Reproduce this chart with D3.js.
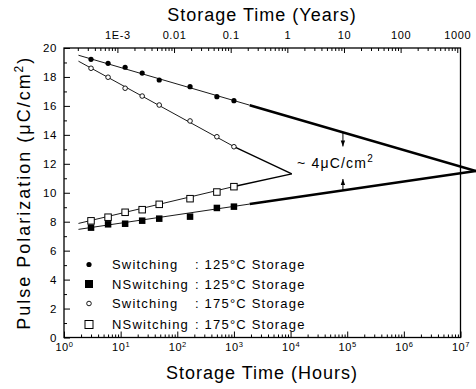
<!DOCTYPE html>
<html>
<head>
<meta charset="utf-8">
<script src="https://cdn.jsdelivr.net/npm/d3@7"></script>
<style>
  body { margin: 0; background: #fff; }
  svg { display: block; font-family: "Liberation Sans", Arial, Helvetica, sans-serif; }
</style>
</head>
<body>
<div id="chart"></div>
<script>
// Storage time of the measured points (hours)
const hours = [3, 6, 12, 24, 48, 168, 500, 1000];

// Pulse polarization (uC/cm2)
const sw125 = [19.22, 18.94, 18.67, 18.27, 17.79, 17.33, 16.64, 16.36];
const ns125 = [7.59, 7.82, 7.86, 8.07, 8.21, 8.35, 8.95, 9.04];
const sw175 = [18.60, 17.98, 17.22, 16.68, 16.06, 14.96, 13.87, 13.18];
const ns175 = [8.06, 8.31, 8.65, 8.83, 9.20, 9.59, 10.05, 10.42];

// fitted / extrapolated lines: [hours, value] end points
const fitSw125Thin = [[1.8, 19.5], [1900, 16.05]];
const fitSw125Thick = [[1900, 16.05], [1.87e7, 11.5]];
const fitNs125Thin = [[1.8, 7.47], [1900, 9.22]];
const fitNs125Thick = [[1900, 9.22], [1.87e7, 11.5]];
const fitSw175Thin = [[1.8, 19.09], [1000, 13.19]];
const fitSw175Tail = [[1000, 13.19], [1.05e4, 11.3]];
const fitNs175Thin = [[1.8, 7.88], [1000, 10.43]];
const fitNs175Tail = [[1000, 10.43], [1.05e4, 11.3]];

// axis ticks
const hourTicks = [1, 10, 100, 1e3, 1e4, 1e5, 1e6, 1e7];
const yearTicks = [1e-3, 0.01, 0.1, 1, 10, 100, 1000];
const yearLabels = ['1E-3', '0.01', '0.1', '1', '10', '100', '1000'];
const polTicks = [0, 2, 4, 6, 8, 10, 12, 14, 16, 18, 20];

// legend
const legendNames = ['Switching', 'NSwitching', 'Switching', 'NSwitching'];
const legendTemps = [': 125°C Storage', ': 125°C Storage', ': 175°C Storage', ': 175°C Storage'];
const legendSymbols = ['dot', 'fsquare', 'circle', 'osquare'];

// ~4uC/cm2 gap marker
const gapHour = 8.4e4;
const gapUpper = [14.18, 13.2];
const gapLower = [10.95, 10.16];

const W = 476, H = 389;
const HOURS_PER_YEAR = 8766;

const svg = d3.select('#chart').append('svg')
    .attr('width', W)
    .attr('height', H);

const x = d3.scaleLog().domain([1, 1e7]).range([64, 460.5]);
const y = d3.scaleLinear().domain([0, 20]).range([337.5, 48]);
const xYears = d3.scaleLog()
    .domain([1 / HOURS_PER_YEAR, 1e7 / HOURS_PER_YEAR])
    .range(x.range());

const x0 = x.range()[0], x1 = x.range()[1];
const yTop = y.range()[1], yBot = y.range()[0];

function isPow10(v) {
    const l = Math.log10(v);
    return Math.abs(l - Math.round(l)) < 1e-9;
}

function styleAxis(g, size) {
    g.select('.domain').remove();
    g.selectAll('line').attr('stroke', '#000').attr('stroke-width', 1);
    g.selectAll('text')
        .attr('fill', '#000')
        .attr('font-size', size)
        .attr('letter-spacing', 0.6)
        .attr('font-family', '"Liberation Sans", Arial, sans-serif');
}

// bottom axis (hours)
const bottomMinor = svg.append('g')
    .attr('transform', `translate(0,${yBot})`)
    .call(d3.axisBottom(x)
        .tickValues(x.ticks().filter(v => !isPow10(v)))
        .tickSizeInner(-3).tickSizeOuter(0).tickFormat(''));
styleAxis(bottomMinor, 11);

const bottomMajor = svg.append('g')
    .attr('transform', `translate(0,${yBot})`)
    .call(d3.axisBottom(x)
        .tickValues(hourTicks)
        .tickSizeInner(-6).tickSizeOuter(0).tickPadding(6));
styleAxis(bottomMajor, 11);
bottomMajor.selectAll('.tick text')
    .attr('dy', '0.71em')
    .text(null)
    .each(function(d) {
        const t = d3.select(this);
        t.append('tspan').text('10');
        t.append('tspan')
            .attr('font-size', 7.5)
            .attr('dy', '-0.55em')
            .text(Math.round(Math.log10(d)));
    });

// top axis (years)
const topMinor = svg.append('g')
    .attr('transform', `translate(0,${yTop})`)
    .call(d3.axisTop(xYears)
        .tickValues(xYears.ticks().filter(v => !isPow10(v)))
        .tickSizeInner(-3).tickSizeOuter(0).tickFormat(''));
styleAxis(topMinor, 11);

const topMajor = svg.append('g')
    .attr('transform', `translate(0,${yTop})`)
    .call(d3.axisTop(xYears)
        .tickValues(yearTicks)
        .tickSizeInner(-5).tickSizeOuter(0).tickPadding(9)
        .tickFormat((d, i) => yearLabels[i]));
styleAxis(topMajor, 11);

// left axis
const leftMinor = svg.append('g')
    .attr('transform', `translate(${x0},0)`)
    .call(d3.axisLeft(y)
        .tickValues(d3.range(1, 20, 2))
        .tickSizeInner(-3).tickSizeOuter(0).tickFormat(''));
styleAxis(leftMinor, 11);

const leftMajor = svg.append('g')
    .attr('transform', `translate(${x0},0)`)
    .call(d3.axisLeft(y)
        .tickValues(polTicks)
        .tickSizeInner(-6).tickSizeOuter(0).tickPadding(7));
styleAxis(leftMajor, 11.5);

// frame
svg.append('rect')
    .attr('x', x0).attr('y', yTop)
    .attr('width', x1 - x0).attr('height', yBot - yTop)
    .attr('fill', 'none')
    .attr('stroke', '#000')
    .attr('stroke-width', 1.3);

// fit lines
const line = d3.line().x(d => x(d[0])).y(d => y(d[1]));
const fits = [
    [fitSw125Thin, 0.9], [fitSw125Thick, 2.6],
    [fitNs125Thin, 0.9], [fitNs125Thick, 2.6],
    [fitSw175Thin, 0.9], [fitSw175Tail, 1.4],
    [fitNs175Thin, 0.9], [fitNs175Tail, 1.4]
];
svg.append('g').selectAll('path')
    .data(fits)
    .enter()
    .append('path')
    .attr('d', d => line(d[0]))
    .attr('fill', 'none')
    .attr('stroke', '#000')
    .attr('stroke-width', d => d[1]);

// markers
function drawSymbol(sel, type, cx, cy, big) {
    const s = big ? 8 : 6.5;
    if (type === 'dot') {
        sel.append('circle').attr('cx', cx).attr('cy', cy).attr('r', 2.6).attr('fill', '#000');
    } else if (type === 'circle') {
        sel.append('circle').attr('cx', cx).attr('cy', cy).attr('r', 2.3)
            .attr('fill', '#fff').attr('stroke', '#000').attr('stroke-width', 0.9);
    } else if (type === 'fsquare') {
        sel.append('rect').attr('x', cx - s / 2).attr('y', cy - s / 2)
            .attr('width', s).attr('height', s).attr('fill', '#000');
    } else {
        sel.append('rect').attr('x', cx - s / 2).attr('y', cy - s / 2)
            .attr('width', s).attr('height', s)
            .attr('fill', '#fff').attr('stroke', '#000').attr('stroke-width', 1);
    }
}

const series = [
    [sw125, 'dot'], [ns125, 'fsquare'], [sw175, 'circle'], [ns175, 'osquare']
];
const markG = svg.append('g');
series.forEach(([vals, type]) => {
    vals.forEach((v, i) => drawSymbol(markG, type, x(hours[i]), y(v), false));
});

// gap annotation
const ann = svg.append('g');
const gx = x(gapHour);
ann.append('line')
    .attr('x1', gx).attr('x2', gx)
    .attr('y1', y(gapUpper[0])).attr('y2', y(gapUpper[1]))
    .attr('stroke', '#000').attr('stroke-width', 1);
ann.append('path')
    .attr('d', `M${gx - 2.2},${y(gapUpper[1]) - 6} L${gx + 2.2},${y(gapUpper[1]) - 6} L${gx},${y(gapUpper[1])} Z`)
    .attr('fill', '#000');
ann.append('line')
    .attr('x1', gx).attr('x2', gx)
    .attr('y1', y(gapLower[0])).attr('y2', y(gapLower[1]))
    .attr('stroke', '#000').attr('stroke-width', 1);
ann.append('path')
    .attr('d', `M${gx - 2.2},${y(gapLower[0]) + 6} L${gx + 2.2},${y(gapLower[0]) + 6} L${gx},${y(gapLower[0])} Z`)
    .attr('fill', '#000');

const annText = ann.append('text')
    .attr('x', 297).attr('y', 168)
    .attr('font-size', 14)
    .attr('letter-spacing', 1.2)
    .attr('fill', '#000');
annText.append('tspan').text('~ 4\u03bcC/cm');
annText.append('tspan').attr('font-size', 10).attr('dy', -6).text('2');

// legend
const legend = svg.append('g');
const rowY = [264.5, 284, 303.5, 324.5];
legendNames.forEach((name, i) => {
    drawSymbol(legend, legendSymbols[i], 89, rowY[i], true);
    legend.append('text')
        .attr('x', 112).attr('y', rowY[i] + 4.5)
        .attr('font-size', 13).attr('letter-spacing', 1.2)
        .text(name);
    legend.append('text')
        .attr('x', 195).attr('y', rowY[i] + 4.5)
        .attr('font-size', 13).attr('letter-spacing', 1.2)
        .text(legendTemps[i]);
});

// axis titles
svg.append('text')
    .attr('x', 262).attr('y', 21)
    .attr('text-anchor', 'middle')
    .attr('font-size', 18).attr('letter-spacing', 1)
    .text('Storage Time (Years)');

svg.append('text')
    .attr('x', 262).attr('y', 379)
    .attr('text-anchor', 'middle')
    .attr('font-size', 18).attr('letter-spacing', 1)
    .text('Storage Time (Hours)');

const yTitle = svg.append('text')
    .attr('transform', `translate(30,${(yTop + yBot) / 2}) rotate(-90)`)
    .attr('text-anchor', 'middle')
    .attr('font-size', 18).attr('letter-spacing', 2)
    .text('Pulse Polarization (\u03bcC/cm');
yTitle.append('tspan').attr('font-size', 12).attr('dy', -7).text('2');
yTitle.append('tspan').attr('dy', 7).text(')');
</script>
</body>
</html>
